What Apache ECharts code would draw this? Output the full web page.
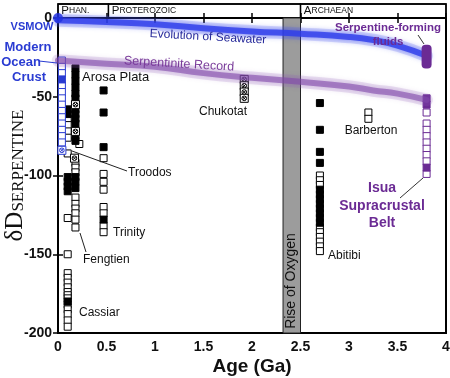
<!DOCTYPE html>
<html><head><meta charset="utf-8">
<script src="https://cdn.jsdelivr.net/npm/echarts@6/dist/echarts.min.js"></script>
<style>html,body{margin:0;padding:0;background:#fff}#c{width:450px;height:378px}</style>
</head><body><div id="c"></div>
<script>
// ---------- data ----------
const eraNames = ['PHAN.', 'PROTEROZOIC', 'ARCHAEAN'];
const eraBounds = [0, 0.52, 2.5, 4];
const oxygenRise = [2.32, 2.5];

// Trend bands (age in Ga, dD)
const bandAges   = [0, 0.5, 1, 1.5, 2, 2.5, 3, 3.25, 3.5, 3.8];
const seawater   = [-1.5, -2.5, -4, -6.5, -8.5, -10, -12, -14, -17.5, -24];
const serpRecord = [-27, -29, -31, -35, -38, -40.5, -43.5, -46, -48, -52];

// VSMOW reference
const vsmow = [[0, 0]];

// Modern ocean crust (blue)
const oceanOpen    = [[0.04,-27],[0.04,-31],[0.04,-35],[0.04,-43],[0.04,-47],[0.04,-51],[0.04,-55],[0.04,-59],[0.04,-63],[0.04,-67],[0.04,-71],[0.04,-75],[0.04,-79]];
const oceanFilled  = [[0.04,-39]];
const oceanCrossed = [[0.04,-84]];

// Black open squares
const openPts = [
  [0.10,-64],[0.10,-68],[0.10,-72],[0.10,-76],[0.10,-86],[0.10,-127],[0.10,-150],
  [0.18,-92],[0.18,-95],[0.18,-98],[0.18,-114],[0.18,-118],[0.18,-121],[0.18,-124],[0.18,-128],[0.18,-133],
  [0.22,-80],
  // Cassiar
  [0.10,-162],[0.10,-165],[0.10,-168],[0.10,-171],[0.10,-174],[0.10,-176],[0.10,-178],[0.10,-182],[0.10,-185],[0.10,-188],[0.10,-192],[0.10,-196],
  // Trinity
  [0.47,-89],[0.47,-99],[0.47,-104],[0.47,-109],[0.47,-120],[0.47,-124],[0.47,-132],[0.47,-136],
  // Abitibi
  [2.7,-100],[2.7,-103],[2.7,-106],[2.7,-133],[2.7,-136],[2.7,-139],[2.7,-142],[2.7,-145],[2.7,-148],
  // Barberton
  [3.2,-60],[3.2,-64]
];
// Black filled squares
const filledPts = [
  // Arosa Plata
  [0.18,-32],[0.18,-36],[0.18,-40],[0.18,-44],[0.18,-48],[0.18,-51],[0.18,-58],[0.18,-61],[0.18,-64],[0.18,-67],[0.18,-75],[0.18,-78],
  [0.18,-101],[0.18,-104],[0.18,-108],
  [0.10,-58],[0.10,-61],[0.10,-101],[0.10,-104],[0.10,-107],[0.10,-110],
  [0.10,-180],
  // Trinity
  [0.47,-46],[0.47,-60],[0.47,-82],[0.47,-128],
  // Abitibi
  [2.7,-54],[2.7,-71],[2.7,-85],[2.7,-92],[2.7,-109],[2.7,-112],[2.7,-115],[2.7,-118],[2.7,-121],[2.7,-124],[2.7,-127],[2.7,-130]
];
// Crossed squares
const crossedPts = [[0.18,-55],[0.18,-72],[0.17,-89],[1.92,-39],[1.92,-43],[1.92,-47],[1.92,-51]];

// Isua Supracrustal Belt (purple)
const isuaOpen   = [[3.8,-60],[3.8,-67],[3.8,-71],[3.8,-75],[3.8,-79],[3.8,-83],[3.8,-87],[3.8,-91],[3.8,-99]];
const isuaFilled = [[3.8,-51],[3.8,-55],[3.8,-95]];
// Serpentine-forming fluids range
const fluids = [[3.8, -17, -32]];

// ---------- styles ----------
const BLUE = '#2a3cd2', PURPLE = '#6b2b94', FONT = 'Liberation Sans, Arial, sans-serif';
const SERIF = 'Liberation Serif, Times New Roman, serif';
const crossPath = 'path://M0,0H10V10H0Z M5,2.1A2.9,2.9 0 1,1 4.99,2.1Z M3,3L7,7M7,3L3,7';

function sq(name, data, fill, border, symbol, size) {
  return { name, type: 'scatter', data, symbol: symbol || 'rect', symbolSize: size || 7,
    itemStyle: { color: fill, borderColor: border, borderWidth: 1, opacity: 1 },
    xAxisIndex: 0, yAxisIndex: 0, z: 3, animation: false, silent: true };
}
function band(name, vals, color, halo, width) {
  return [
    { name: name + 'halo', type: 'line', data: bandAges.map((a, i) => [a, vals[i]]), smooth: true, symbol: 'none',
      clip: false, z: 4, silent: true, animation: false,
      lineStyle: { color: halo, width: width * 2.1, cap: 'round' } },
    { name, type: 'line', data: bandAges.map((a, i) => [a, vals[i]]), smooth: true, symbol: 'none',
      clip: false, z: 5, silent: true, animation: false,
      lineStyle: { color, width, cap: 'round', shadowBlur: 6, shadowColor: color } }
  ];
}

const txt = (t, x, y, o) => Object.assign({ type: 'text', x, y, z: 100, silent: true,
  style: Object.assign({ text: t, fill: '#111', font: '12px ' + FONT, align: 'left', verticalAlign: 'middle' }, o && o.style) },
  o && o.rotation !== undefined ? { rotation: o.rotation } : {});
const ln = (x1, y1, x2, y2, c) => ({ type: 'line', z: 100, silent: true, shape: { x1, y1, x2, y2 }, style: { stroke: c || '#222', lineWidth: 1 } });

const chart = echarts.init(document.getElementById('c'), null, { renderer: 'canvas' });
const option = {
  animation: false,
  backgroundColor: '#fff',
  grid: [
    { left: 58, right: 4, top: 18, bottom: 45, show: true, borderColor: '#000', borderWidth: 2, backgroundColor: 'transparent',
      containLabel: false, outerBoundsMode: 'none' },
    { left: 58, right: 4, top: 4, height: 14, show: true, borderColor: '#000', borderWidth: 1.5, backgroundColor: 'transparent',
      containLabel: false, outerBoundsMode: 'none' }
  ],
  xAxis: [
    { gridIndex: 0, type: 'value', min: 0, max: 4, interval: 0.5, splitLine: { show: false },
      axisLine: { show: false }, axisTick: { inside: true, length: 5, lineStyle: { color: '#000', width: 1.5 } },
      axisLabel: { color: '#111', fontWeight: 'bold', fontSize: 14, fontFamily: FONT, margin: 7 },
      name: 'Age (Ga)', nameLocation: 'middle', nameGap: 24, nameMoveOverlap: false,
      nameTextStyle: { color: '#111', fontWeight: 'bold', fontSize: 19, fontFamily: FONT } },
    { gridIndex: 0, type: 'value', position: 'top', min: 0, max: 4, interval: 0.5, splitLine: { show: false },
      axisLine: { show: false }, axisTick: { inside: true, length: 5, lineStyle: { color: '#000', width: 1.5 } },
      axisLabel: { show: false } },
    { gridIndex: 1, type: 'value', min: 0, max: 4, show: false }
  ],
  yAxis: [
    { gridIndex: 0, type: 'value', min: -200, max: 0, interval: 50, splitLine: { show: false },
      axisLine: { show: false }, axisTick: { inside: true, length: 5, lineStyle: { color: '#000', width: 1.5 } },
      axisLabel: { color: '#111', fontWeight: 'bold', fontSize: 14, fontFamily: FONT, margin: 6 },
      name: '{d|δD}{s|SERPENTINE}', nameLocation: 'middle', nameGap: 30, nameMoveOverlap: false,
      nameTextStyle: { rich: {
        d: { fontFamily: SERIF, fontSize: 25, color: '#111' },
        s: { fontFamily: SERIF, fontSize: 17, color: '#111', padding: [6, 0, 0, 0] } } } },
    { gridIndex: 0, type: 'value', position: 'right', min: -200, max: 0, interval: 50, splitLine: { show: false },
      axisLine: { show: false }, axisTick: { inside: true, length: 5, lineStyle: { color: '#000', width: 1.5 } },
      axisLabel: { show: false } },
    { gridIndex: 1, type: 'value', min: 0, max: 1, show: false }
  ],
  series: [
    { type: 'scatter', xAxisIndex: 2, yAxisIndex: 2, data: [[0, 0]], symbolSize: 0, silent: true,
      markArea: { silent: true,
        itemStyle: { color: 'rgba(0,0,0,0)', borderColor: '#000', borderWidth: 1.3 },
        label: { position: 'insideLeft', distance: 4, color: '#111', fontFamily: FONT,
          formatter: p => '{a|' + p.name.charAt(0) + '}{b|' + p.name.slice(1) + '}',
          rich: { a: { fontSize: 11.5, fontFamily: FONT, color: '#111' }, b: { fontSize: 8.5, fontFamily: FONT, color: '#111' } } },
        data: eraNames.map((n, i) => [{ name: n, xAxis: eraBounds[i], yAxis: 0 }, { xAxis: eraBounds[i + 1], yAxis: 1 }]) } },
    { type: 'scatter', xAxisIndex: 0, yAxisIndex: 0, data: [], z: 1, silent: true,
      markArea: { silent: true, itemStyle: { color: '#9c9c9c', borderColor: '#222', borderWidth: 1 },
        label: { show: false },
        data: [[{ xAxis: oxygenRise[0], yAxis: -200 }, { xAxis: oxygenRise[1], yAxis: 0 }]] } },
    sq('open', openPts, '#fff', '#000'),
    sq('filled', filledPts, '#000', '#000'),
    sq('crossed', crossedPts, '#fff', '#000', crossPath, 8),
    sq('oceanOpen', oceanOpen, '#fff', BLUE),
    sq('oceanFilled', oceanFilled, BLUE, BLUE),
    sq('oceanCrossed', oceanCrossed, '#fff', BLUE, crossPath, 8),
    sq('isuaOpen', isuaOpen, '#fff', PURPLE),
    sq('isuaFilled', isuaFilled, PURPLE, PURPLE),
    ...band('seawater', seawater, 'rgba(45,60,235,0.8)', 'rgba(80,95,240,0.2)', 6),
    ...band('serp', serpRecord, 'rgba(128,72,170,0.6)', 'rgba(150,100,190,0.18)', 6),
    { name: 'fluids', type: 'custom', xAxisIndex: 0, yAxisIndex: 0, data: fluids, z: 6, silent: true,
      renderItem: (params, api) => {
        const top = api.coord([api.value(0), api.value(1)]);
        const bot = api.coord([api.value(0), api.value(2)]);
        const w = 10;
        return { type: 'rect', shape: { x: top[0] - w / 2, y: top[1], width: w, height: bot[1] - top[1], r: 4 },
          style: { fill: PURPLE } };
      } },
    { name: 'VSMOW', type: 'scatter', data: vsmow, symbol: 'circle', symbolSize: 10, clip: false, z: 7,
      itemStyle: { color: '#1f30e0' }, silent: true }
  ],
  graphic: [
    txt('VSMOW', 32, 27, { style: { font: 'bold 11px ' + FONT, fill: BLUE, align: 'center' } }),
    txt('Modern', 28, 47, { style: { font: 'bold 13px ' + FONT, fill: BLUE, align: 'center' } }),
    txt('Ocean', 21, 62, { style: { font: 'bold 13px ' + FONT, fill: BLUE, align: 'center' } }),
    txt('Crust', 29, 77, { style: { font: 'bold 13px ' + FONT, fill: BLUE, align: 'center' } }),
    ln(39, 61, 57, 63, BLUE),
    txt('Evolution of Seawater', 208, 37, { rotation: -0.055, style: { font: '12px ' + FONT, fill: '#26299a', align: 'center' } }),
    txt('Serpentinite Record', 179, 64, { rotation: -0.06, style: { font: '12.5px ' + FONT, fill: '#7a3c9a', align: 'center' } }),
    txt('Serpentine-forming', 388, 28, { style: { font: 'bold 11.5px ' + FONT, fill: PURPLE, align: 'center' } }),
    txt('fluids', 388, 42, { style: { font: 'bold 11.5px ' + FONT, fill: PURPLE, align: 'center' } }),
    ln(418, 35, 424, 44, '#333'),
    txt('Arosa Plata', 82, 77, { style: { font: '13px ' + FONT } }),
    txt('Troodos', 128, 173),
    ln(72, 151, 127, 171),
    txt('Trinity', 113, 233),
    txt('Fengtien', 83, 260),
    ln(80, 233, 86, 252),
    txt('Cassiar', 79, 313),
    txt('Chukotat', 199, 112),
    txt('Barberton', 371, 131, { style: { align: 'center' } }),
    txt('Abitibi', 328, 256),
    txt('Isua', 382, 188, { style: { font: 'bold 14px ' + FONT, fill: PURPLE, align: 'center' } }),
    txt('Supracrustal', 382, 206, { style: { font: 'bold 14px ' + FONT, fill: PURPLE, align: 'center' } }),
    txt('Belt', 382, 223, { style: { font: 'bold 14px ' + FONT, fill: PURPLE, align: 'center' } }),
    ln(400, 198, 423, 178, '#333'),
    txt('Rise of Oxygen', 291, 281, { rotation: Math.PI / 2, style: { font: '14px ' + FONT, fill: '#111', align: 'center' } })
  ]
};
chart.setOption(option);
</script>
</body></html>
